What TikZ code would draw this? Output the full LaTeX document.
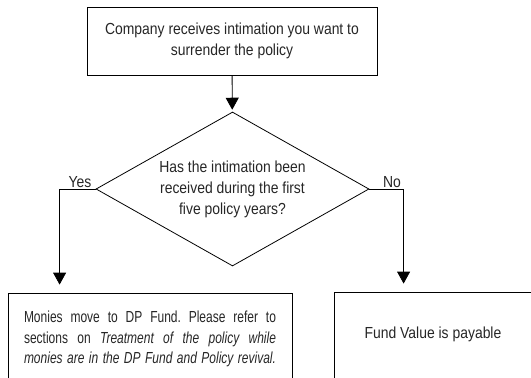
\documentclass[tikz,border=0pt]{standalone}
\usepackage{fontspec}
\setmainfont{Liberation Sans}[FakeStretch=0.87]
\usetikzlibrary{shapes.geometric,arrows.meta}
\frenchspacing
\begin{document}
\begin{tikzpicture}[x=1pt, y=-1pt,
        every node/.style={font=\fontsize{16}{21}\selectfont, text=black!85},
        flowbox/.style={draw, line width=0.8pt, rectangle, inner sep=0pt},
        question/.style={draw, line width=0.8pt, diamond, inner sep=0pt, aspect=1.77,
            minimum width=273pt, minimum height=154pt, align=center},
        flowarrow/.style={line width=0.8pt, -{Triangle[width=13pt,length=12pt]}}]
                    \useasboundingbox (0, 0) rectangle (531, 378);
                    \clip (0, 0) rectangle (531, 378);
                    \node[flowbox, minimum width=290pt, minimum height=68pt, align=center] (intimation) at (232, 41)
                        {Company receives intimation you want to\\surrender the policy};
                    \node[question] (firstfive) at (232.5, 189)
                        {\raisebox{-2pt}{\begin{tabular}{@{}c@{}}Has the intimation been\\received during the first\\five policy years?\end{tabular}}};
                    \node[flowbox, minimum width=284pt, minimum height=92pt, text width=252pt, align=justify,
                        font=\fontsize{16}{20.5}\selectfont\addfontfeatures{FakeStretch=0.75}] (dpfund) at (150, 339)
                        {\parfillskip=0pt Monies move to DP Fund. Please refer to\linebreak sections on \textit{Treatment of the policy while\linebreak monies are in the DP Fund and Policy revival.}\par};
                    \node[flowbox, minimum width=198pt, minimum height=92pt, text depth=11pt] (payable) at (433, 338)
                        {Fund Value is payable};
                        \node (yes) at (80, 182){Yes};
                        \node (no) at (392, 182){No};
                    \draw[flowarrow, shorten >=2pt] (intimation) -- (firstfive);
                    \draw[flowarrow, shorten >=8pt] (firstfive.west) -| ([xshift=52pt]dpfund.north west);
                    \draw[flowarrow, shorten >=8pt] (firstfive.east) -| ([xshift=70pt]payable.north west);
                \end{tikzpicture}
\end{document}
